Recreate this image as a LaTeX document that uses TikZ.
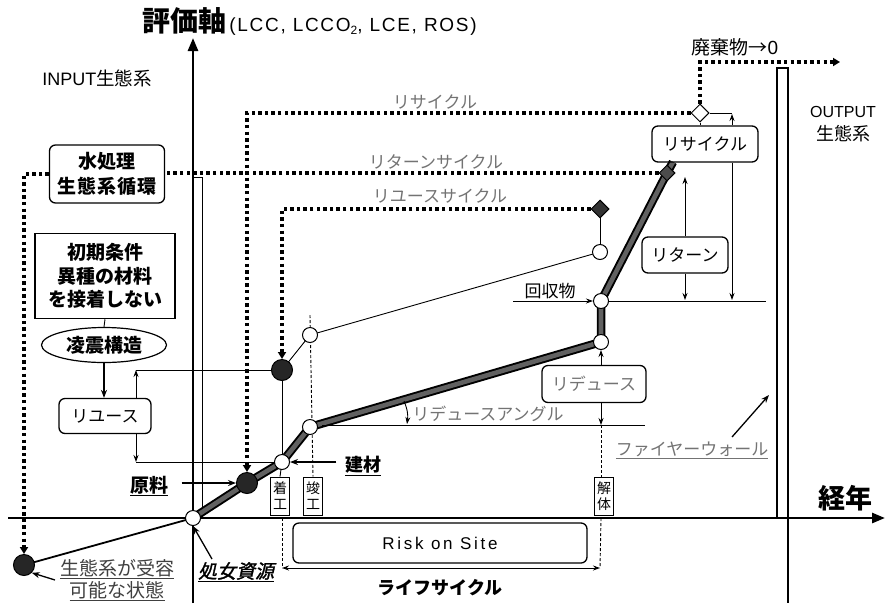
\documentclass[tikz,border=0pt]{standalone}
\usepackage{fontspec}
\setmainfont{Noto Sans CJK JP}
\newfontfamily\lat{Liberation Sans}
\newfontfamily\latsp[LetterSpace=16]{Liberation Sans}
\newfontfamily\latti[LetterSpace=9]{Liberation Sans}
\newfontfamily\jpbsl[FakeSlant=0.22,FakeBold=1.5]{Noto Sans CJK JP}
\newfontfamily\jpsp[LetterSpace=6]{Noto Sans CJK JP}
\usetikzlibrary{arrows.meta,shapes.geometric,backgrounds}
\definecolor{glab}{gray}{0.45}
\definecolor{lcfill}{gray}{0.38}
\begin{document}
\begin{tikzpicture}[x=1pt,y=-1pt,
  axis/.style={line width=2.6pt,-{Triangle[length=13pt,width=10pt]}},
  dotl/.style={line width=3.4pt,dash pattern=on 3.4pt off 3.2pt},
  dotarr/.style={dotl,-{Triangle[length=7pt,width=8pt]}},
  thinl/.style={line width=0.9pt},
  tarr/.style={line width=0.9pt,-{Stealth[length=7pt,width=5pt]}},
  marr/.style={line width=1.3pt,-{Stealth[length=8pt,width=6pt]}},
  lcout/.style={line width=8.5pt,line join=round},
  lcin/.style={line width=4.6pt,lcfill,line join=round},
  wcirc/.style={circle,draw,fill=white,line width=1pt,minimum size=15pt,inner sep=0pt},
  bcirc/.style={circle,draw,fill=black!85,line width=1pt,minimum size=21pt,inner sep=0pt},
  dmd/.style={diamond,draw,line width=1pt,minimum size=18pt,inner sep=0pt},
  rbox/.style={draw,rounded corners=6pt,line width=1.3pt,inner sep=0pt},
  vbox/.style={draw,line width=0.7pt,inner sep=1pt,align=center,minimum width=19pt,minimum height=38pt,font=\fontsize{14}{16}\selectfont},
  glabel/.style={text=glab,font=\fontsize{17}{20}\selectfont},
  dsh/.style={line width=0.9pt,dash pattern=on 3pt off 2pt},
  lbl/.style={font=\fontsize{17}{20}\selectfont},
  blbl/.style={font=\fontsize{18}{21}\selectfont\bfseries},
]
\useasboundingbox (0,0) rectangle (885,603);

% free-end coordinates
\coordinate (ybot) at (193,603);
\coordinate (ytop) at (193,38);
\coordinate (xl) at (8,518);
\coordinate (xr) at (885,518);
\coordinate (rctop) at (673,162);
\coordinate (wend) at (840,62);
\coordinate (c732) at (732,300);
\coordinate (c732t) at (732,114);
\coordinate (rtup) at (685,177);
\coordinate (hline1) at (766,301);
\coordinate (kaiL) at (513,301);
\coordinate (angL) at (322,425);
\coordinate (angR) at (645,425);
\coordinate (angS) at (404,401);
\coordinate (angE) at (407,424);
\coordinate (lcR) at (600,568);
\coordinate (shunTop) at (310,315);
\coordinate (c136) at (136,372);
\coordinate (fwA) at (732,437);
\coordinate (fwB) at (769,395);
\coordinate (shA) at (212,559);
\coordinate (ecA) at (55,580);
\coordinate (iw1) at (193,177);
\coordinate (iw2) at (202,177);
\coordinate (iw3) at (202,518);
\coordinate (ow1) at (777,518);
\coordinate (ow2) at (777,68);
\coordinate (ow3) at (788,68);
\coordinate (ow4) at (788,603);

% nodes: markers
\node[wcirc] (o) at (193,518) {};
\node[bcirc] (raw) at (247,483) {};
\node[wcirc] (mat) at (282,462) {};
\node[wcirc] (comp) at (310,427) {};
\node[wcirc] (r1) at (601,342) {};
\node[wcirc] (r2) at (601,301) {};
\node[dmd,fill=black!70,minimum size=16pt] (rd) at (667,173) {};
\node[bcirc] (ru) at (282,370) {};
\node[wcirc] (ru2) at (310,335) {};
\node[wcirc] (ru3) at (600,252) {};
\node[dmd,fill=black!80] (rud) at (600,209) {};
\node[dmd,fill=white] (rcd) at (700,113) {};
\node[bcirc] (eco) at (24,565) {};

% boxes
\node[rbox,minimum width=106pt,minimum height=36pt,lbl] (rcb) at (705,144) {リサイクル};
\node[rbox,minimum width=86pt,minimum height=36pt,lbl] (rtb) at (685,255) {リターン};
\node[rbox,minimum width=104pt,minimum height=37pt,lbl,text=glab] (rdb) at (594,384) {リデュース};
\node[rbox,minimum width=92pt,minimum height=35pt,lbl] (rub) at (105,416) {リユース};
\node[rbox,minimum width=115pt,minimum height=58pt,align=center,font=\fontsize{19}{25}\selectfont\bfseries] (wt) at (107,174) {水処理\\{\jpsp\bfseries 生態系循環}};
\node[draw,line width=1.5pt,minimum width=140pt,minimum height=85pt,align=center,font=\fontsize{19}{23.5}\selectfont\bfseries] (init) at (105,276) {初期条件\\異種の材料\\を接着しない};
\node[ellipse,draw,line width=1.2pt,minimum width=125pt,minimum height=35pt,font=\fontsize{19}{21}\selectfont\bfseries] (ell) at (104,345) {凌震構造};
\node[rbox,minimum width=294pt,minimum height=40pt,font=\latsp\fontsize{17}{20}\selectfont] (risk) at (440,543) {Risk on Site};
\node[vbox] (chaku) at (280,496) {着\\工};
\node[vbox] (shun) at (313,496) {竣\\工};
\node[vbox] (kai) at (604,496) {解\\体};

% labels
\node[anchor=west,inner sep=0pt] (ttl) at (142,21) {{\fontsize{28}{30}\selectfont\bfseries 評価軸}{\latti\fontsize{19}{22}\selectfont\,(LCC, LCCO\raisebox{-0.35ex}{\fontsize{12}{12}\selectfont 2}, LCE, ROS)}};
\node[font=\fontsize{18.5}{22}\selectfont] (inp) at (97,78) {{\lat\fontsize{18}{22}\selectfont INPUT}生態系};
\node[font=\fontsize{19}{22}\selectfont] (waste) at (735,47) {廃棄物→{\lat 0}};
\node[align=center,font=\fontsize{18}{23}\selectfont] (outp) at (843,124) {{\lat\fontsize{16}{23}\selectfont OUTPUT}\\生態系};
\node[font=\fontsize{27}{30}\selectfont\bfseries] (kei) at (845,498) {経年};
\node[glabel] (l1) at (435,102) {リサイクル};
\node[glabel] (l2) at (436,162) {リターンサイクル};
\node[glabel] (l3) at (440,196) {リユースサイクル};
\node[glabel] (l4) at (488,414) {リデュースアングル};
\node[glabel] (l5) at (692,450) {\underline{ファイヤーウォール}};
\node[font=\fontsize{19}{22}\selectfont\bfseries] (genryo) at (149,486) {\underline{原料}};
\node[blbl] (kenzai) at (363,466) {\underline{建材}};
\node[lbl] (kaishu) at (550,291) {回収物};
\node[font=\jpbsl\fontsize{19}{22}\selectfont] (shojo) at (236,572) {\underline{処女資源}};
\node[align=center,text=black!75,font=\fontsize{19}{22}\selectfont] (ecotxt) at (117,580) {\underline{生態系が受容}\\\underline{可能な状態}};
\node[blbl] (lc) at (440,588) {ライフサイクル};

% background drawing
\begin{scope}[on background layer]
\draw[axis] (ybot) -- (ytop);
\draw[axis] (xl) -- (xr);
\draw[line width=1pt] (iw1) -- (iw2) -- (iw3);
\draw[line width=1.2pt] (ow1) -- (ow2) -- (ow3) -- (ow4);
\draw[line width=1.8pt] (o.center) -- (eco.center);
\draw[thinl] (ru.center) -- (ru2.center) -- (ru3.center);
\draw[thinl] (ru3.center) -- (rud.center);
\draw[thinl] (ru.center) -- (mat.center);
\draw[thinl] (mat.center) -- (chaku.north);
\draw[lcout] (o.center) -- (raw.center) -- (mat.center) -- (comp.center) -- (r1.center) -- (r2.center) -- (rd.center) -- (rctop);
\draw[lcin] (o.center) -- (raw.center) -- (mat.center) -- (comp.center) -- (r1.center) -- (r2.center) -- (rd.center) -- (rctop);
\draw[dsh] (comp |- shunTop) -- (shun.north);
\end{scope}

% dotted cycles
\draw[dotarr] (rcd.west) -| (raw.north);
\draw[dotarr] (rud.west) -| (ru.north);
\draw[dotl] (rd.west) -- (rd.west -| wt.east);
\draw[dotarr] (wt.west) -| (eco.north);
\draw[dotarr] (rcd.north) |- (wend);

% recycle / return arrows
\draw[thinl] (rcd.east) -- (rcd.east -| c732);
\draw[tarr] (rcb.north -| c732) -- (c732t);
\draw[thinl] (rcd.south) -- (rcd.south |- rcb.north);
\draw[tarr] (rcb.south -| c732) -- (c732);
\draw[tarr] (rtb.south) -- (rtb.south |- c732);
\draw[tarr] (rtb.north) -- (rtup);
\draw[thinl] (r2.east) -- (hline1);
\draw[tarr] (kaiL) -- (r2.west);

% reduce
\draw[tarr] (r1 |- rdb.north) -- (r1.south);
\draw[tarr] (r1 |- rdb.south) -- (r1 |- angR);
\draw[thinl] (angL) -- (angR);
\draw[tarr] (angS) to[bend left=15] (angE);
\draw[dsh] (r1 |- angR) -- (r1 |- kai.north);
\draw[dsh] (r1 |- o) -- (lcR);
\draw[dsh] (mat |- o) -- (mat |- lcR);
\draw[line width=0.9pt,{Stealth[length=7pt,width=5pt]}-{Stealth[length=7pt,width=5pt]}] (mat |- lcR) -- (lcR);

% left side flow
\draw[thinl] (init.south) -- (ell.north);
\draw[marr] (ell.south) -- (ell.south |- rub.north);
\draw[thinl] (ru.west) -- (c136 |- ru.west);
\draw[tarr] (rub.north -| c136) -- (c136 |- ru.west);
\draw[tarr] (rub.south -| c136) -- (c136 |- mat.west);
\draw[thinl] (c136 |- mat.west) -- (mat.west);

% pointer arrows
\draw[marr] ([xshift=10pt]raw.west -| genryo.east) -- (raw.west);
\draw[marr] ([xshift=-5pt]mat.east -| kenzai.west) -- (mat.east);
\draw[marr] (fwA) -- (fwB);
\draw[marr] (shA) -- (o.south);
\draw[marr] (ecA) -- (eco.south east);
\end{tikzpicture}
\end{document}
